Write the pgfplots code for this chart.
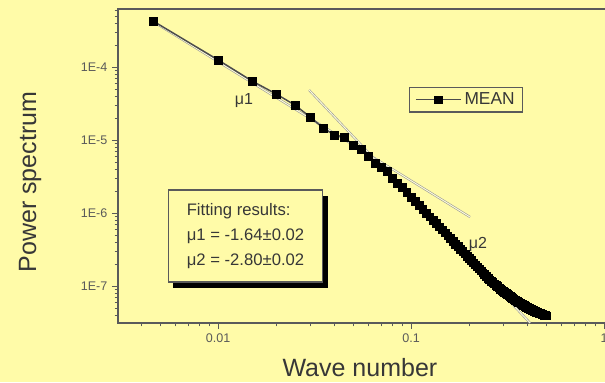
\documentclass[border=0pt]{standalone}
\usepackage{pgfplots}
\pgfplotsset{compat=1.18}
\usepackage{fontspec}
\setmainfont{Liberation Sans}
\usetikzlibrary{shadows}
\definecolor{bgyellow}{RGB}{255,251,168}
\definecolor{inkgray}{RGB}{55,55,55}
\definecolor{axisgray}{RGB}{90,90,90}

\begin{document}
\begin{tikzpicture}
\fill[bgyellow] (0,0) rectangle (453.75pt,286.5pt);
\begin{axis}[
  at={(88.5pt,44.25pt)}, anchor=south west,
  scale only axis, width=365.8pt, height=235.5pt,
  xmode=log, ymode=log,
  xmin=0.00303, xmax=1.02, ymin=3.11e-8, ymax=6.23e-4,
  xtick={0.01,0.1,1}, xticklabels={0.01,0.1,1},
  ytick={1e-7,1e-6,1e-5,1e-4}, yticklabels={1E-7,1E-6,1E-5,1E-4},
  minor xtick={0.004,0.005,0.006,0.007,0.008,0.009,0.02,0.03,0.04,0.05,0.06,0.07,0.08,0.09,0.2,0.3,0.4,0.5,0.6,0.7,0.8,0.9},
  minor ytick={4e-8,5e-8,6e-8,7e-8,8e-8,9e-8,2e-7,3e-7,4e-7,5e-7,6e-7,7e-7,8e-7,9e-7,2e-6,3e-6,4e-6,5e-6,6e-6,7e-6,8e-6,9e-6,2e-5,3e-5,4e-5,5e-5,6e-5,7e-5,8e-5,9e-5,2e-4,3e-4,4e-4,5e-4,6e-4},
  tick align=outside, xtick pos=bottom, ytick pos=left,
  major tick length=4.5pt, minor tick length=2.5pt,
  axis line style={draw=axisgray, line width=1.2pt},
  tick style={axisgray, line width=0.6pt},
  ticklabel style={font=\fontsize{9.4}{11}\selectfont, text=axisgray},
  xlabel={Wave number}, ylabel={Power spectrum},
  every axis x label/.style={at={(axis description cs:0.496,0)}, anchor=center, yshift=-33.75pt, font=\fontsize{18.75}{22}\selectfont, text=inkgray},
  every axis y label/.style={at={(axis description cs:0,0.449)}, anchor=center, xshift=-66pt, rotate=90, font=\fontsize{18.75}{22}\selectfont, text=inkgray},
  legend style={at={(0.597,0.752)}, anchor=north west, draw=axisgray, line width=0.8pt, fill=bgyellow, font=\fontsize{13}{15}\selectfont, text=inkgray, inner xsep=4pt, inner ysep=2pt},
  legend image code/.code={\draw[mark repeat=2,mark phase=2,#1] plot coordinates {(0pt,0pt) (17pt,0pt) (34pt,0pt)};},
]
% fitted power laws (mu1 at low wave numbers, mu2 at high wave numbers)
\addplot[forget plot, draw=gray!80, line width=0.45pt, double=white!55!bgyellow, double distance=0.7pt]
  coordinates {(0.00455,4.27e-4) (0.202,8.81e-7)};
\addplot[forget plot, draw=gray!80, line width=0.45pt, double=white!55!bgyellow, double distance=0.7pt]
  coordinates {(0.0296,4.84e-5) (0.414,3.11e-8)};
% mean spectrum
\addplot[draw=gray!60!black, line width=1.1pt, mark=square*, mark size=2.9pt,
  mark options={solid, fill=black, draw=black, line width=0.3pt}]
  table {
k P
0.0046 4.27e-4
0.010 1.25e-4
0.015 6.43e-5
0.020 4.27e-5
0.025 3.01e-5
0.030 2.07e-5
0.035 1.46e-5
0.040 1.17e-5
0.045 1.10e-5
0.050 8.55e-6
0.055 7.53e-6
0.060 6.04e-6
0.065 4.84e-6
0.070 4.27e-6
0.075 3.76e-6
0.080 3.01e-6
0.085 2.58e-6
0.090 2.27e-6
0.095 1.94e-6
0.100 1.66e-6
0.105 1.46e-6
0.110 1.29e-6
0.115 1.135e-6
0.120 1.00e-6
0.125 8.92e-7
0.130 7.99e-7
0.135 7.19e-7
0.140 6.49e-7
0.145 5.89e-7
0.150 5.35e-7
0.155 4.88e-7
0.160 4.47e-7
0.165 4.10e-7
0.170 3.77e-7
0.175 3.48e-7
0.180 3.21e-7
0.185 2.98e-7
0.190 2.76e-7
0.195 2.57e-7
0.200 2.39e-7
0.205 2.23e-7
0.210 2.09e-7
0.215 1.95e-7
0.220 1.83e-7
0.225 1.72e-7
0.230 1.62e-7
0.235 1.52e-7
0.240 1.44e-7
0.245 1.36e-7
0.250 1.28e-7
0.255 1.224e-7
0.260 1.170e-7
0.265 1.120e-7
0.270 1.073e-7
0.275 1.029e-7
0.280 9.87e-8
0.285 9.48e-8
0.290 9.10e-8
0.295 8.75e-8
0.300 8.42e-8
0.305 8.16e-8
0.310 7.91e-8
0.315 7.68e-8
0.320 7.45e-8
0.325 7.24e-8
0.330 7.03e-8
0.335 6.83e-8
0.340 6.64e-8
0.345 6.46e-8
0.350 6.29e-8
0.355 6.14e-8
0.360 6.01e-8
0.365 5.88e-8
0.370 5.75e-8
0.375 5.63e-8
0.380 5.51e-8
0.385 5.40e-8
0.390 5.28e-8
0.395 5.18e-8
0.400 5.08e-8
0.405 4.99e-8
0.410 4.91e-8
0.415 4.84e-8
0.420 4.76e-8
0.425 4.69e-8
0.430 4.62e-8
0.435 4.55e-8
0.440 4.48e-8
0.445 4.41e-8
0.450 4.35e-8
0.455 4.30e-8
0.460 4.25e-8
0.465 4.21e-8
0.470 4.16e-8
0.475 4.12e-8
0.480 4.08e-8
0.485 4.03e-8
0.490 3.99e-8
0.495 3.95e-8
0.500 3.91e-8
};
\addlegendentry{MEAN}
% slope labels
\node[font=\fontsize{12}{14}\selectfont, text=inkgray] at (rel axis cs:0.2584,0.707) {μ1};
\node[font=\fontsize{12}{14}\selectfont, text=inkgray] at (rel axis cs:0.738,0.2516) {μ2};
% fit summary
\node[draw=axisgray, line width=0.8pt, fill=bgyellow, minimum width=116pt, minimum height=69pt,
  align=left, font=\fontsize{12.5}{18.75}\selectfont, text=inkgray,
  general shadow={fill=black, shadow xshift=3.75pt, shadow yshift=-4.5pt}]
  at (rel axis cs:0.2614,0.277) {Fitting results:\\μ1 = -1.64±0.02\\μ2 = -2.80±0.02};
\end{axis}
\pgfresetboundingbox
\path[use as bounding box] (0,0) rectangle (453.75pt,286.5pt);
\end{tikzpicture}
\end{document}
